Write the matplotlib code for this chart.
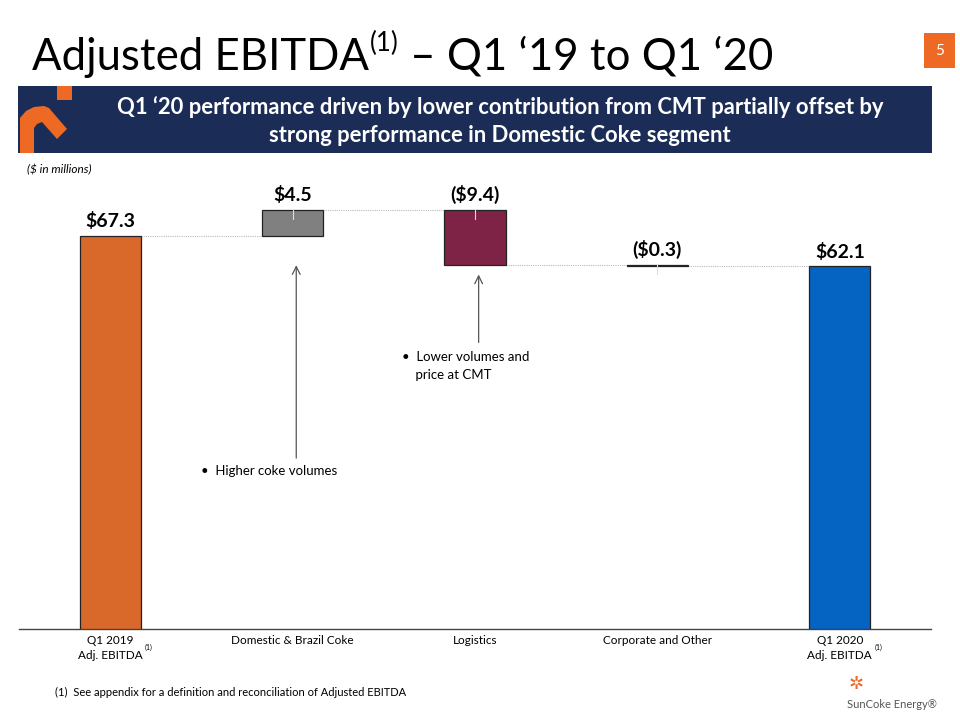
import matplotlib.pyplot as plt
from matplotlib.patches import Rectangle, Polygon
import numpy as np

plt.rcParams['font.family'] = ['Lato', 'DejaVu Sans']

# waterfall data ($ in millions)
categories = ['Q1 2019\nAdj. EBITDA', 'Domestic & Brazil Coke', 'Logistics',
              'Corporate and Other', 'Q1 2020\nAdj. EBITDA']
values = [67.3, 4.5, -9.4, -0.3, 62.1]
value_labels = ['$67.3', '$4.5', '($9.4)', '($0.3)', '$62.1']
is_total = [True, False, False, False, True]
colors = ['#D9682B', '#808080', '#7F2346', '#3A1A24', '#0563C1']

fig = plt.figure(figsize=(9.6, 7.2), dpi=100)
renderer = fig.canvas.get_renderer()

def px(x, y):
    return x / 960, 1 - y / 720

def right_edge(t):
    bb = t.get_window_extent(renderer=renderer)
    return bb.x1 / 960

# title
t1 = fig.text(*px(32, 70), 'Adjusted EBITDA', fontsize=31.5, va='baseline', ha='left')
t2 = fig.text(right_edge(t1) + 0.001, 1 - 31 / 720, '(1)', fontsize=18.5, va='top', ha='left')
fig.text(right_edge(t2), 1 - 70 / 720, ' – Q1 ‘19 to Q1 ‘20', fontsize=31.5,
         va='baseline', ha='left')

# page number box
fig.patches.append(Rectangle(px(924, 68), 31 / 960, 35 / 720, transform=fig.transFigure,
                             facecolor='#EE6A24', edgecolor='none'))
fig.text(*px(939.5, 51), '5', color='white', fontsize=11, ha='center', va='center')

# banner
fig.patches.append(Rectangle(px(18, 153), (932 - 18) / 960, (153 - 86) / 720,
                             transform=fig.transFigure, facecolor='#1B2D57', edgecolor='none'))
fig.text(*px(500, 107), 'Q1 ‘20 performance driven by lower contribution from CMT partially offset by',
         color='white', fontsize=15.8, fontweight='bold', ha='center', va='center')
fig.text(*px(500, 136), 'strong performance in Domestic Coke segment',
         color='white', fontsize=15.8, fontweight='bold', ha='center', va='center')

# logo mark in banner
orange = '#EE6A24'
fig.patches.append(Rectangle(px(57, 100), 15 / 960, 14 / 720, transform=fig.transFigure,
                             facecolor=orange, edgecolor='none'))
logo_pts = [(20, 153), (20, 118), (26, 111), (34, 107), (44, 106), (49, 108), (67, 129),
            (57, 139), (42, 122), (37, 124), (34, 128), (34, 153)]
fig.patches.append(Polygon([px(x, y) for x, y in logo_pts], closed=True,
                           transform=fig.transFigure, facecolor=orange, edgecolor='none'))

fig.text(*px(27, 170), '($ in millions)', fontsize=8.5, style='italic', ha='left', va='center')

# chart axes
ax = fig.add_axes([19 / 960, 1 - 629 / 720, (931 - 19) / 960, (629 - 162) / 720])
x = np.arange(len(values))
bottoms = []
tops = []
running = 0.0
for v, tot in zip(values, is_total):
    if tot:
        b, t = 0.0, v
        running = v
    else:
        b = running
        running = running + v
        t = running
    bottoms.append(min(b, t))
    tops.append(max(b, t))
heights = [t - b for b, t in zip(bottoms, tops)]
w = 0.335
ax.bar(x, heights, bottom=bottoms, width=w, color=colors, edgecolor='#222222', linewidth=0.9, zorder=3)

# connectors
levels = [values[0]]
run = values[0]
for v in values[1:-1]:
    run += v
    levels.append(run)
for i, lvl in enumerate(levels):
    ax.plot([i + w / 2, i + 1 - w / 2], [lvl, lvl], color='#BBBBBB', lw=0.8,
            ls=(0, (1, 1)), zorder=2)

# small marks at top of change bars
for i in [1, 2, 3]:
    ax.plot([i, i], [tops[i], tops[i] - 1.6], color='#DDDDDD', lw=0.8, zorder=4)

# value labels
for i, lab in enumerate(value_labels):
    ax.text(i, tops[i] + 1.0, lab, fontsize=14, fontweight='bold', ha='center', va='bottom')

# arrows and notes
ax.annotate('', xy=(1.02, 62.8), xytext=(1.02, 28.8),
            arrowprops=dict(arrowstyle='->', color='#555555', lw=0.9, mutation_scale=14))
ax.annotate('', xy=(2.02, 61.2), xytext=(2.02, 48.6),
            arrowprops=dict(arrowstyle='->', color='#555555', lw=0.9, mutation_scale=14))
ax.text(0.50, 27.0, '•  Higher coke volumes', fontsize=9.5, ha='left', va='center')
ax.text(1.60, 46.6, '•  Lower volumes and', fontsize=9.5, ha='left', va='center')
ax.text(1.60, 43.5, '    price at CMT', fontsize=9.5, ha='left', va='center')

ax.set_xlim(-0.5, 4.5)
ax.set_ylim(0, 80)
ax.set_yticks([])
ax.set_xticks(x)
ax.set_xticklabels(categories, fontsize=8.5, linespacing=1.5)
ax.tick_params(axis='x', length=0, pad=4)
for s in ['top', 'right', 'left']:
    ax.spines[s].set_visible(False)
ax.spines['bottom'].set_color('#444444')
ax.spines['bottom'].set_linewidth(1.0)

# superscripts on total labels
for i in [0, 4]:
    ax.annotate('(1)', xy=(i + 0.19, 0), xycoords='data', xytext=(0, -13.5),
                textcoords='offset points', fontsize=5, ha='left', va='center',
                annotation_clip=False)

# footnote
fig.text(*px(55, 692), '(1)  See appendix for a definition and reconciliation of Adjusted EBITDA',
         fontsize=8, ha='left', va='center')

# company mark
fig.text(*px(856, 684), '✲', color=orange, fontsize=13, ha='center', va='center',
         family=['DejaVu Sans'])
fig.text(*px(892, 704), 'SunCoke Energy®', color='#555555', fontsize=8, ha='center', va='center')

fig.savefig('out.png', dpi=100)
